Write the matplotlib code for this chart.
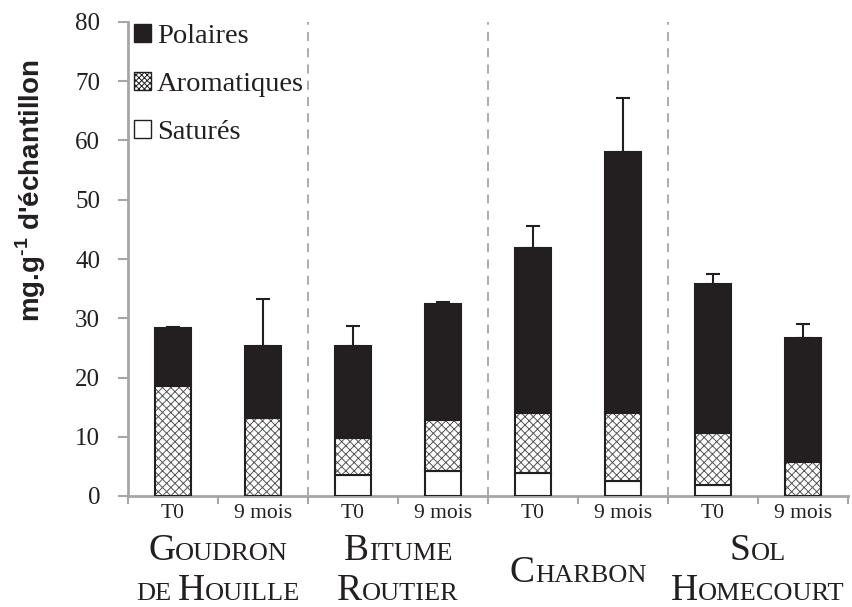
import matplotlib
matplotlib.use("Agg")
import matplotlib.pyplot as plt
import numpy as np
from matplotlib.patches import Patch
from matplotlib.offsetbox import TextArea, HPacker, AnnotationBbox

# stacked fractions, mg/g of sample
periods = ["T0", "9 mois", "T0", "9 mois", "T0", "9 mois", "T0", "9 mois"]
group_lines = [["Goudron", "de Houille"], ["Bitume", "Routier"], ["Charbon"], ["Sol", "Homecourt"]]
satures = [0.0, 0.0, 3.6, 4.3, 3.9, 2.6, 1.9, 0.0]
aromatiques = [18.6, 13.2, 6.2, 8.6, 10.1, 11.4, 8.7, 5.8]
polaires = [9.8, 12.1, 15.5, 19.5, 27.8, 44.0, 25.1, 20.8]
erreurs = [0.2, 7.9, 3.4, 0.4, 3.8, 9.2, 1.8, 2.4]

plt.rcParams['font.family'] = ['Liberation Serif', 'DejaVu Serif']
plt.rcParams['mathtext.fontset'] = 'custom'
plt.rcParams['mathtext.rm'] = 'Liberation Sans:bold'
plt.rcParams['mathtext.bf'] = 'Liberation Sans:bold'
plt.rcParams['hatch.linewidth'] = 0.7

ink = '#231f20'
grey = '#a6a6a6'

fig = plt.figure(figsize=(8.52, 6.07), dpi=100)
ax = fig.add_axes([128 / 852, 1 - 496 / 607, 720 / 852, 474 / 607])

x = np.arange(len(periods))
w = 0.41
sat = np.array(satures)
aro = np.array(aromatiques)
pol = np.array(polaires)

# saturés
ax.bar(x, sat, w, color='white', edgecolor=ink, linewidth=1.5, zorder=3)
# aromatiques: hatch first, outline on top
ax.bar(x, aro, w, bottom=sat, color='white', edgecolor='#555555', hatch='xxxx',
       linewidth=0, zorder=3)
ax.bar(x, aro, w, bottom=sat, fill=False, edgecolor=ink, linewidth=1.5, zorder=4)
# polaires
ax.bar(x, pol, w, bottom=sat + aro, color=ink, edgecolor=ink, linewidth=1.5, zorder=3)
tot = sat + aro + pol
ax.errorbar(x, tot, yerr=[np.zeros_like(tot), erreurs], fmt='none', ecolor=ink,
            elinewidth=1.5, capsize=4.7, capthick=1.5, zorder=5)

# separators between sample types
for sx in [1.5, 3.5, 5.5]:
    ax.plot([sx, sx], [0, 80], color=grey, lw=1.3, ls=(0, (5, 4)), zorder=1)

ax.set_xlim(-0.5, 7.5)
ax.set_ylim(0, 80)
ax.set_yticks(np.arange(0, 81, 10))
ax.tick_params(axis='y', direction='out', length=7, width=1.5, color=grey,
               labelsize=18, pad=13, labelcolor=ink)
ax.set_xticks(np.arange(-0.5, 8, 1))
ax.set_xticklabels([])
ax.set_xticks(x, minor=True)
ax.set_xticklabels(periods, minor=True)
ax.tick_params(axis='x', which='major', direction='out', length=6, width=1.5, color=grey)
ax.tick_params(axis='x', which='minor', length=0, labelsize=15.5, pad=6, labelcolor=ink)
for s in ['top', 'right']:
    ax.spines[s].set_visible(False)
for s in ['left', 'bottom']:
    ax.spines[s].set_color(grey)
    ax.spines[s].set_linewidth(2)

fig.text(31 / 852, 1 - 191 / 607, r"mg.g$^{\text{-1}}$ d'échantillon", rotation=90,
         ha='center', va='center', fontsize=20, fontweight='bold',
         family='Liberation Sans', color=ink)

handles = [Patch(facecolor=ink, edgecolor=ink, label='Polaires'),
           Patch(facecolor='white', edgecolor=ink, hatch='xxxxxx', label='Aromatiques'),
           Patch(facecolor='white', edgecolor=ink, label='Saturés')]
ax.legend(handles=handles, loc='upper left', bbox_to_anchor=(0.0, 1.007), frameon=False,
          fontsize=20.5, handlelength=0.6, handleheight=0.6, handletextpad=0.22,
          labelspacing=0.8, borderpad=0.2, borderaxespad=0, labelcolor=ink)


def small_caps(line, big=27, small=19):
    parts = []
    for i, word in enumerate(line.split(' ')):
        if i:
            parts.append(TextArea(' ', textprops=dict(fontsize=small, color=ink)))
        if word[0].isupper():
            parts.append(TextArea(word[0], textprops=dict(fontsize=big, color=ink)))
            word = word[1:]
        if word:
            parts.append(TextArea(word.upper(), textprops=dict(fontsize=small, color=ink)))
    return HPacker(children=parts, align='baseline', pad=0, sep=0)


trans = ax.get_xaxis_transform()
for g, lines in enumerate(group_lines):
    cx = 2 * g + 0.5
    if len(lines) == 1:
        ys = [-0.198]
    else:
        ys = [-0.152, -0.236]
    for line, yy in zip(lines, ys):
        ab = AnnotationBbox(small_caps(line), (cx, yy), xycoords=trans,
                            box_alignment=(0.5, 0), frameon=False, pad=0,
                            annotation_clip=False)
        ax.add_artist(ab)

fig.savefig('out.png', dpi=100)
